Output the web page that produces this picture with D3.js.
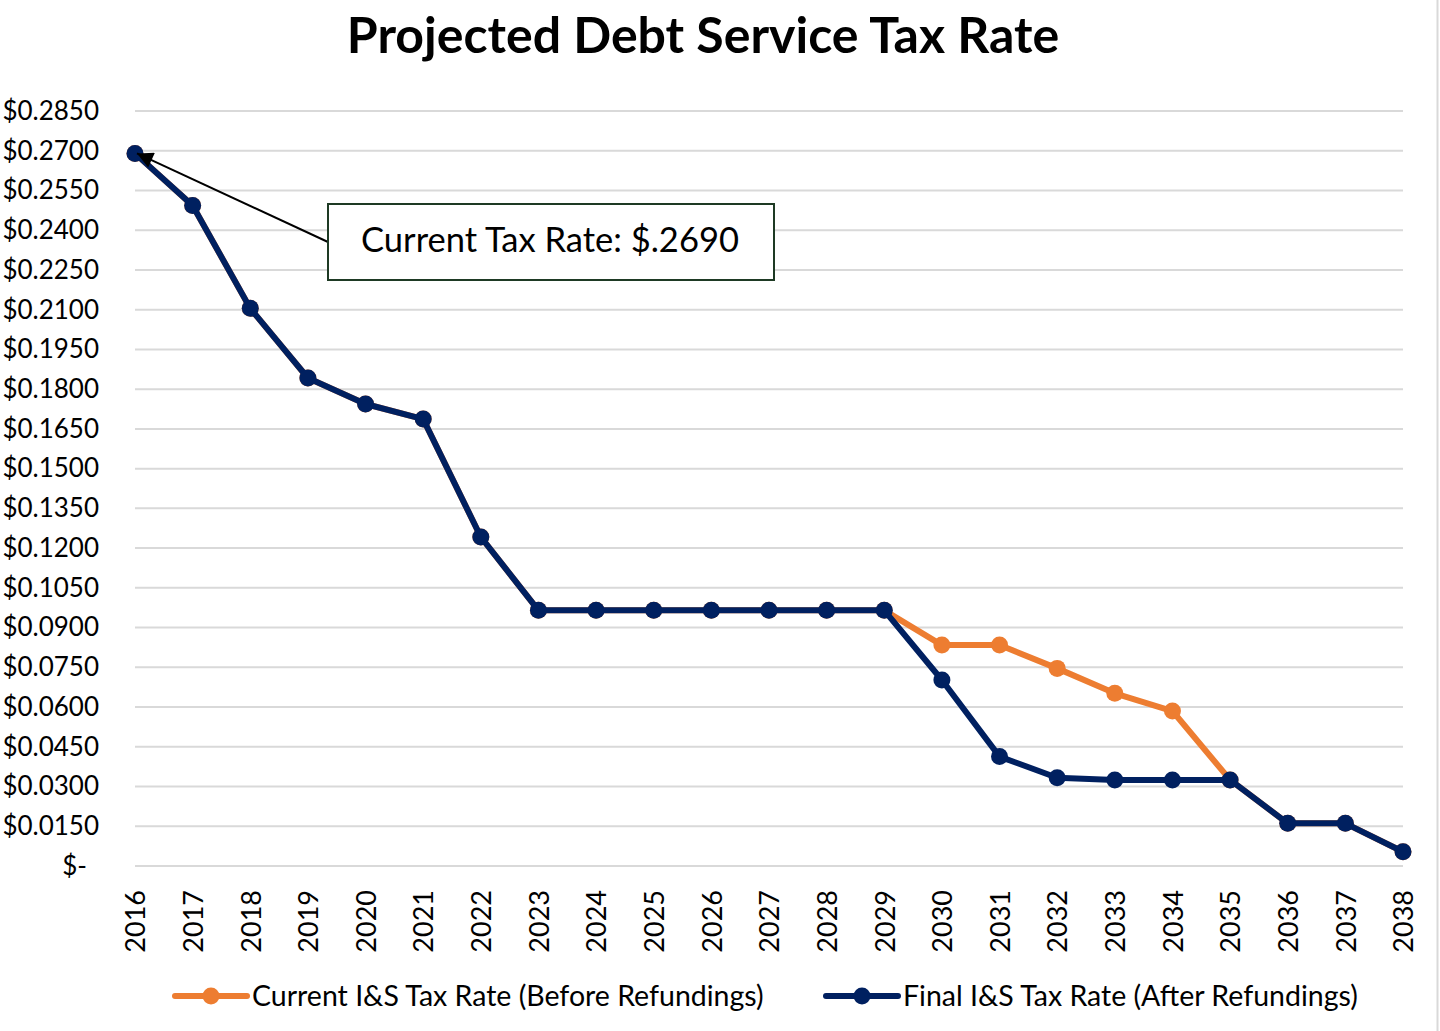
<!DOCTYPE html>
<meta charset="utf-8">
<script src="https://d3js.org/d3.v7.min.js"></script>
<style>
  body { margin: 0; background: #fff; }
  svg text { font-family: Lato, "Noto Sans", sans-serif; fill: #000; }
</style>
<div id="chart"></div>
<script>

// data
var years = [2016, 2017, 2018, 2019, 2020, 2021, 2022, 2023, 2024, 2025, 2026, 2027,
             2028, 2029, 2030, 2031, 2032, 2033, 2034, 2035, 2036, 2037, 2038];

var currentRate = [0.2690, 0.2493, 0.2105, 0.1842, 0.1744, 0.1687, 0.1242, 0.0965, 0.0965, 0.0965,
                   0.0965, 0.0965, 0.0965, 0.0965, 0.0834, 0.0834, 0.0746, 0.0652, 0.0585, 0.0325,
                   0.0161, 0.0161, 0.0054];

var finalRate = [0.2690, 0.2493, 0.2105, 0.1842, 0.1744, 0.1687, 0.1242, 0.0965, 0.0965, 0.0965,
                 0.0965, 0.0965, 0.0965, 0.0965, 0.0702, 0.0413, 0.0333, 0.0325, 0.0325, 0.0325,
                 0.0161, 0.0161, 0.0054];

var yTicks = [0, 0.015, 0.030, 0.045, 0.060, 0.075, 0.090, 0.105, 0.120, 0.135, 0.150,
              0.165, 0.180, 0.195, 0.210, 0.225, 0.240, 0.255, 0.270, 0.285];

var seriesNames = ["Current I&S Tax Rate (Before Refundings)", "Final I&S Tax Rate (After Refundings)"];
var seriesColors = ["#ED7D31", "#002060"];

var W = 1440, H = 1031;

var svg = d3.select("#chart").append("svg")
    .attr("width", W)
    .attr("height", H);

// outer chart frame (only the right side shows)
svg.append("line")
    .attr("x1", 1437.5).attr("x2", 1437.5)
    .attr("y1", 0).attr("y2", H)
    .style("stroke", "#d9d9d9").style("stroke-width", 2);

var x = d3.scalePoint()
    .domain(years)
    .range([135, 1403]);

var y = d3.scaleLinear()
    .domain([0, 0.285])
    .range([866, 111]);

// title
svg.append("text")
    .attr("x", 703).attr("y", 53)
    .attr("text-anchor", "middle")
    .style("font-weight", "bold")
    .style("font-size", "50px")
    .text("Projected Debt Service Tax Rate");

// gridlines
svg.append("g")
  .selectAll("line")
  .data(yTicks)
  .enter().append("line")
    .attr("x1", 135).attr("x2", 1403)
    .attr("y1", function(d) { return y(d); })
    .attr("y2", function(d) { return y(d); })
    .style("stroke", "#d9d9d9").style("stroke-width", 2);

// y axis labels, accounting style
var yAxis = d3.axisLeft(y)
    .tickValues(yTicks)
    .tickSize(0)
    .tickFormat(function(d) { return d === 0 ? "$-" : "$" + d.toFixed(4); });

var gy = svg.append("g")
    .attr("transform", "translate(99,0)")
    .call(yAxis);
gy.select(".domain").remove();
gy.selectAll("text")
    .attr("x", function(d) { return d === 0 ? -12 : 0; })
    .style("font-family", "Lato, sans-serif")
    .style("font-size", "26px");

// x axis labels, rotated
var xAxis = d3.axisBottom(x).tickSize(0);
var gx = svg.append("g")
    .attr("transform", "translate(0,866)")
    .call(xAxis);
gx.select(".domain").remove();
gx.selectAll("text")
    .style("font-family", "Lato, sans-serif")
    .style("font-size", "27px")
    .style("text-anchor", "end")
    .attr("dx", "-24px")
    .attr("dy", "0.36em")
    .attr("y", 0)
    .attr("transform", "rotate(-90)");

// series
var line = d3.line()
    .x(function(d) { return x(d.year); })
    .y(function(d) { return y(d.value); });

[currentRate, finalRate].forEach(function(values, i) {
  var pts = years.map(function(yr, j) { return {year: yr, value: values[j]}; });
  var g = svg.append("g");
  g.append("path")
      .datum(pts)
      .attr("d", line)
      .style("fill", "none")
      .style("stroke", seriesColors[i])
      .style("stroke-width", 6)
      .style("stroke-linejoin", "round");
  g.selectAll("circle")
    .data(pts)
    .enter().append("circle")
      .attr("cx", function(d) { return x(d.year); })
      .attr("cy", function(d) { return y(d.value); })
      .attr("r", 8.5)
      .style("fill", seriesColors[i]);
});

// callout with arrow
svg.append("defs").append("marker")
    .attr("id", "arrow")
    .attr("viewBox", "0 0 10 10")
    .attr("refX", 10).attr("refY", 5)
    .attr("markerWidth", 20).attr("markerHeight", 16)
    .attr("markerUnits", "userSpaceOnUse")
    .attr("orient", "auto")
  .append("path")
    .attr("d", "M0,0L10,5L0,10Z")
    .style("fill", "#000");

var tip = {x: x(2016) + 2, y: y(finalRate[0])};
svg.append("line")
    .attr("x1", 328).attr("y1", 242)
    .attr("x2", tip.x).attr("y2", tip.y)
    .attr("marker-end", "url(#arrow)")
    .style("stroke", "#000").style("stroke-width", 2);

svg.append("rect")
    .attr("x", 328).attr("y", 204)
    .attr("width", 446).attr("height", 76)
    .style("fill", "#fff")
    .style("stroke", "#1e3a24").style("stroke-width", 2);

svg.append("text")
    .attr("x", 550).attr("y", 252)
    .attr("text-anchor", "middle")
    .style("font-size", "34.5px")
    .text("Current Tax Rate: $.2690");

// legend
var legendPos = [175, 826];
var legend = svg.selectAll(".legend")
  .data(seriesNames)
  .enter().append("g")
    .attr("class", "legend")
    .attr("transform", function(d, i) { return "translate(" + legendPos[i] + ",996)"; });

legend.append("line")
    .attr("x1", 0).attr("x2", 72)
    .style("stroke", function(d, i) { return seriesColors[i]; })
    .style("stroke-width", 6)
    .style("stroke-linecap", "round");

legend.append("circle")
    .attr("cx", 36)
    .attr("r", 8.5)
    .style("fill", function(d, i) { return seriesColors[i]; });

legend.append("text")
    .attr("x", 77)
    .attr("dy", "0.36em")
    .style("font-size", "28.5px")
    .text(function(d) { return d; });

</script>
